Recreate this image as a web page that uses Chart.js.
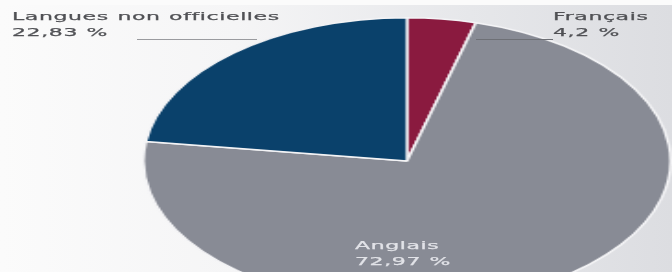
<!DOCTYPE html>
<html lang="fr">
<head>
<meta charset="utf-8">
<script src="https://cdn.jsdelivr.net/npm/chart.js@4"></script>
<style>
  html, body { margin: 0; padding: 0; overflow: hidden; }
  #scene {
    width: 672px; height: 272px; overflow: hidden; position: relative;
    background: linear-gradient(to right, #fbfbfb 0%, #f5f5f6 35%, #e6e7ea 70%, #dcdde1 100%);
    font-family: "DejaVu Sans", sans-serif;
  }
  .topband { position: absolute; left: 0; top: 0; width: 672px; height: 5px; background: #fbfbfb; }
  #wrap {
    position: absolute; left: 263px; top: 17px; width: 288px; height: 288px;
    transform: scaleX(1.84); transform-origin: 144px 144px;
  }
  .lbl {
    position: absolute; font-size: 11px; line-height: 16px; color: #505155;
    letter-spacing: 0.3px; word-spacing: 0.5px; -webkit-text-stroke: 0.25px currentColor;
    transform: scaleX(2); transform-origin: 0 0; white-space: nowrap;
  }
  .lbl.inside { color: #e2e3e8; }
  .lead { position: absolute; height: 1px; }
</style>
</head>
<body>
<div id="scene">
  <div class="topband"></div>
  <div id="wrap"><canvas id="camembert" width="288" height="288"></canvas></div>
  <div id="labels"></div>
</div>

<script>
// ===== DONNÉES =====
const categories = ["Français", "Anglais", "Langues non officielles"];
const valeurs = [4.2, 72.97, 22.83];
const couleurs = ["#8a1a3f", "#888b95", "#0a416b"];

function pct(v) {
  return String(v).replace(".", ",") + " %";
}

// ===== ÉTIQUETTES =====
const labels = document.getElementById("labels");
const positions = [
  { left: 553, top: 9, cls: "" },        // Français
  { left: 355, top: 238, cls: "inside" }, // Anglais
  { left: 12, top: 9, cls: "" }          // Langues non officielles
];
categories.forEach((c, i) => {
  const d = document.createElement("div");
  d.className = "lbl " + positions[i].cls;
  d.style.left = positions[i].left + "px";
  d.style.top = positions[i].top + "px";
  d.innerHTML = `${c}<br>${pct(valeurs[i])}`;
  labels.appendChild(d);
});

// traits de rappel
[[137, 39, 120, "#9a9b9f"], [476, 39, 77, "#6e7076"]].forEach(([x, y, w, c]) => {
  const l = document.createElement("div");
  l.className = "lead";
  l.style.left = x + "px";
  l.style.top = y + "px";
  l.style.width = w + "px";
  l.style.background = c;
  labels.appendChild(l);
});

// ===== GRAPHIQUE =====
new Chart(document.getElementById("camembert").getContext("2d"), {
  type: "pie",
  data: {
    labels: categories,
    datasets: [{
      data: valeurs,
      backgroundColor: couleurs,
      borderColor: "#f4f4f6",
      borderWidth: 1.5,
    }]
  },
  options: {
    responsive: false,
    animation: false,
    rotation: 0,
    layout: { padding: 0 },
    plugins: {
      legend: { display: false },
      tooltip: { enabled: false },
    },
  },
});
</script>
</body>
</html>
